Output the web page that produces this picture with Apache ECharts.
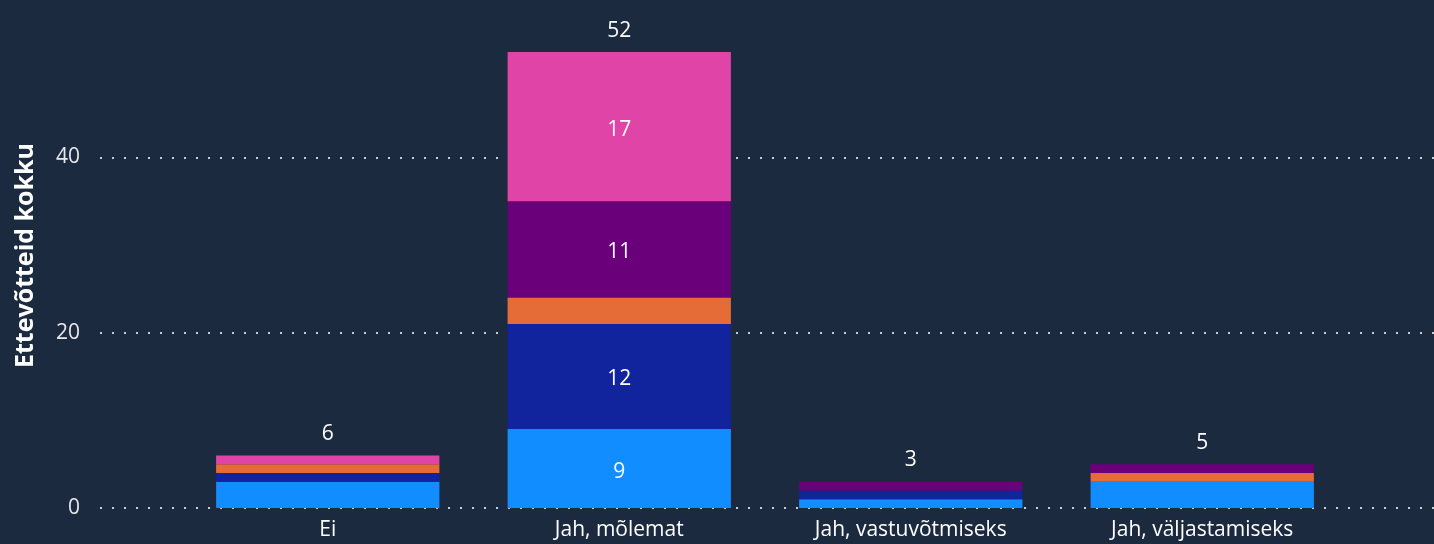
<!DOCTYPE html>
<html>
<head>
<meta charset="utf-8">
<script src="https://cdn.jsdelivr.net/npm/echarts@6/dist/echarts.min.js"></script>
<style>
html,body{margin:0;padding:0;background:#1c2a3f;}
#chart{width:1434px;height:544px;}
</style>
</head>
<body>
<div id="chart"></div>
<script>
const categories = ['Ei', 'Jah, mõlemat', 'Jah, vastuvõtmiseks', 'Jah, väljastamiseks'];
const seriesNames = ['Seeria 1', 'Seeria 2', 'Seeria 3', 'Seeria 4', 'Seeria 5'];
const lightBlue = [3, 9, 1, 3];
const darkBlue = [1, 12, 1, 0];
const orange = [1, 3, 0, 1];
const purple = [0, 11, 1, 1];
const pink = [1, 17, 0, 0];
const yTicks = [0, 20, 40];
const yAxisTitle = 'Ettevõtteid kokku';

const colors = ['#118DFF', '#12239E', '#E66C37', '#6B007B', '#E044A7'];
const seriesData = [lightBlue, darkBlue, orange, purple, pink];
const totals = categories.map((c, i) => seriesData.reduce((s, arr) => s + arr[i], 0));

const FONT = '"Open Sans", "Noto Sans", sans-serif';
const YMAX = 56;

const chart = echarts.init(document.getElementById('chart'));
const option = {
  backgroundColor: '#1c2a3f',
  animation: false,
  grid: [
    { left: 100, right: 0, top: 17, bottom: 36 },
    { left: 182, right: 86, top: 17, bottom: 36 }
  ],
  xAxis: [
    { type: 'category', gridIndex: 0, data: categories, show: false },
    {
      type: 'category', gridIndex: 1, data: categories,
      axisLine: { show: false }, axisTick: { show: false },
      axisLabel: { color: '#ffffff', fontSize: 21, fontFamily: FONT, margin: 12, interval: 0 }
    }
  ],
  yAxis: [
    {
      type: 'value', gridIndex: 0, min: 0, max: YMAX, interval: 20,
      name: yAxisTitle, nameLocation: 'middle', nameGap: 62,
      nameTextStyle: { color: '#ffffff', fontSize: 25, fontWeight: 'bold', fontFamily: FONT, padding: [0, 0, 0, 14] },
      axisLine: { show: false }, axisTick: { show: false },
      axisLabel: {
        color: '#e6e8eb', fontSize: 21, fontFamily: FONT, margin: 20, showMaxLabel: false,
        formatter: v => (yTicks.indexOf(v) >= 0 ? String(v) : '')
      },
      splitLine: {
        show: true, showMaxLine: false,
        lineStyle: { color: '#c9ccd1', width: 2, type: [2, 10] }
      }
    },
    {
      type: 'value', gridIndex: 1, min: 0, max: YMAX, interval: 20, show: false,
      splitLine: { show: false }
    }
  ],
  series: seriesData.map((arr, k) => ({
    name: seriesNames[k],
    type: 'bar',
    xAxisIndex: 1, yAxisIndex: 1,
    stack: 'total',
    barWidth: '76.6%',
    data: arr,
    itemStyle: { color: colors[k] },
    label: {
      show: true, position: 'inside', color: '#ffffff', fontSize: 21, fontFamily: FONT,
      offset: [0, 3],
      formatter: p => (p.value >= 5 ? String(p.value) : '')
    }
  })).concat([{
    name: 'Kokku',
    type: 'scatter',
    xAxisIndex: 1, yAxisIndex: 1,
    symbolSize: 0,
    data: totals,
    itemStyle: { opacity: 1 },
    label: {
      show: true, position: 'top', distance: 11, color: '#ffffff', fontSize: 21, fontFamily: FONT,
      formatter: p => String(p.value)
    },
    z: 5
  }])
};
chart.setOption(option);
</script>
</body>
</html>
